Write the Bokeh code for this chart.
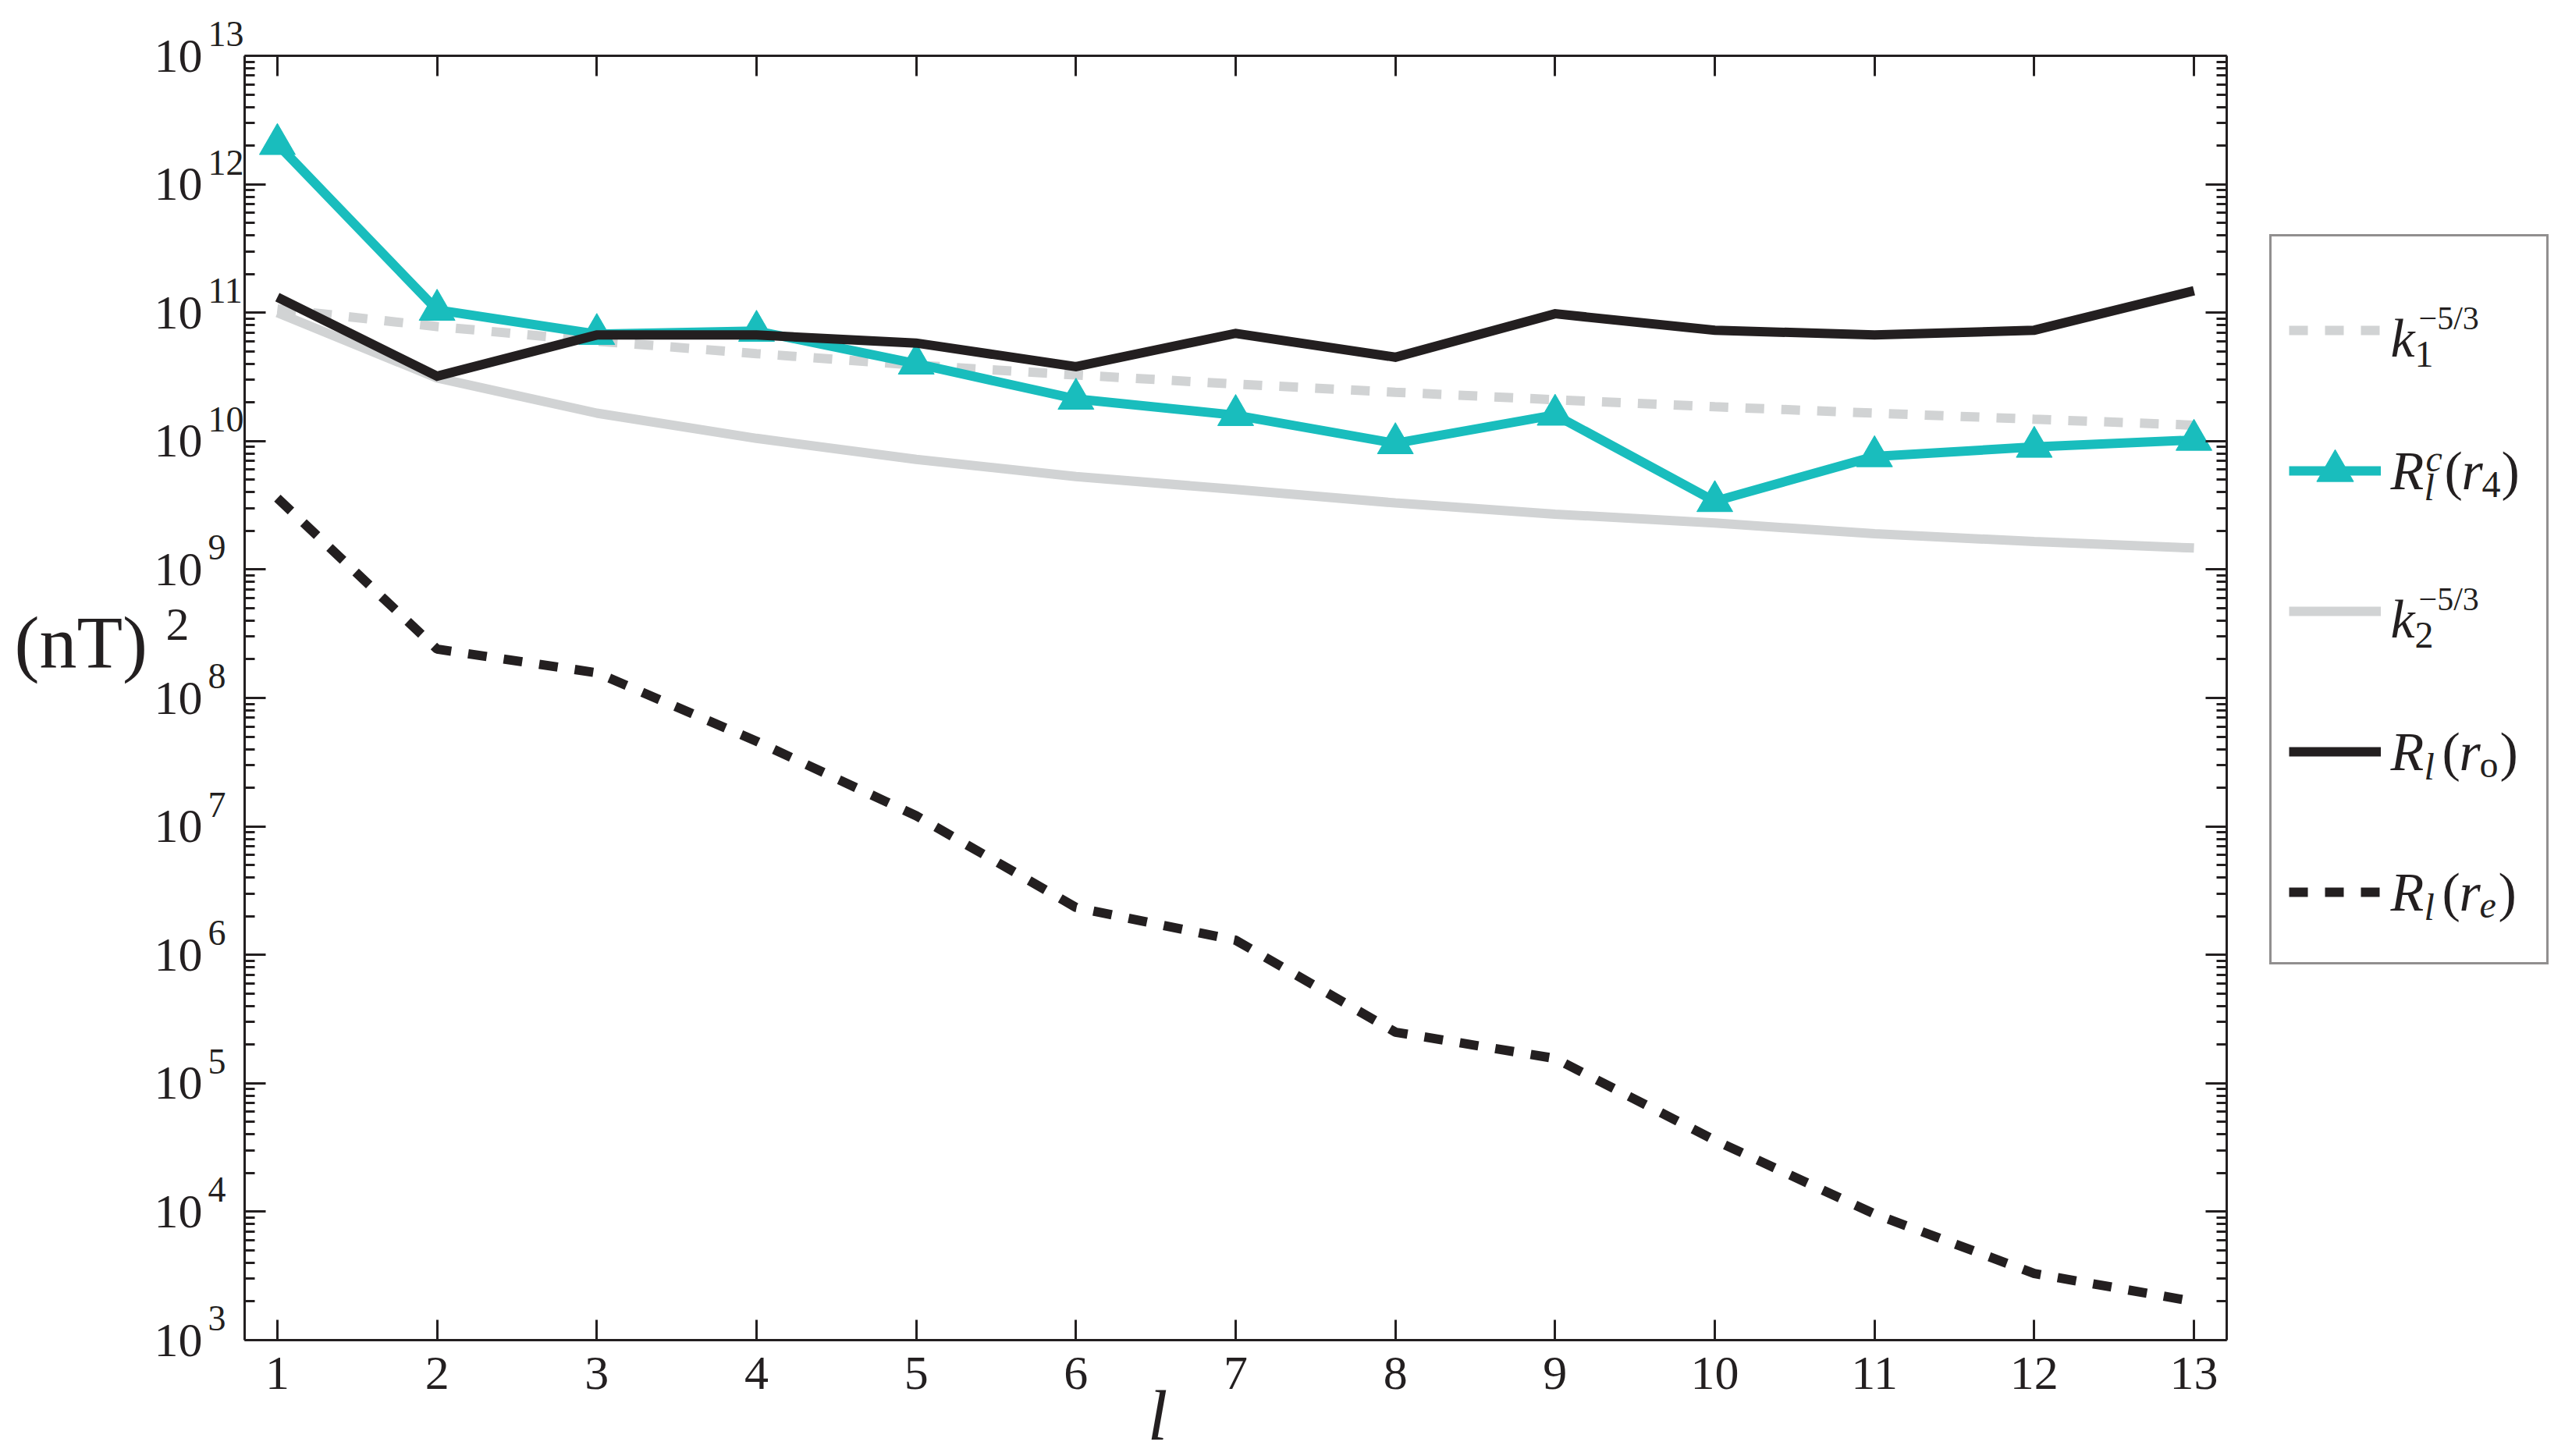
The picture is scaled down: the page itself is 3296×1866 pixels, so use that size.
from bokeh.plotting import figure
from bokeh.models import (Range1d, FixedTicker, LinearAxis, LogAxis, Label,
                          Legend, LegendItem, PrintfTickFormatter, CustomLabelingPolicy)
from bokeh.core.properties import value
from bokeh.embed import file_html
from bokeh.resources import INLINE

# ---------------- data ----------------
degree_l = [1, 2, 3, 4, 5, 6, 7, 8, 9, 10, 11, 12, 13]
k1_power = [1.07e11, 7.8e10, 6.0e10, 4.8e10, 3.9e10, 3.27e10, 2.78e10,
            2.4e10, 2.1e10, 1.85e10, 1.65e10, 1.48e10, 1.33e10]
rc_r4 = [2.05e12, 1.05e11, 6.8e10, 7.2e10, 4.0e10, 2.13e10, 1.59e10,
         9.6e9, 1.6e10, 3.4e9, 7.6e9, 9.0e9, 1.02e10]
k2_power = [1.0e11, 3.1e10, 1.65e10, 1.05e10, 7.2e9, 5.3e9, 4.2e9,
            3.3e9, 2.7e9, 2.3e9, 1.9e9, 1.65e9, 1.47e9]
r_l_ro = [1.32e11, 3.2e10, 6.7e10, 6.7e10, 5.8e10, 3.8e10, 6.9e10,
          4.5e10, 9.8e10, 7.3e10, 6.7e10, 7.3e10, 1.48e11]
r_l_re = [3.6e9, 2.4e8, 1.57e8, 4.6e7, 1.21e7, 2.34e6, 1.3e6,
          2.5e5, 1.56e5, 3.6e4, 9.6e3, 3.3e3, 2.0e3]
x_tick_values = degree_l
y_exponents = [3, 4, 5, 6, 7, 8, 9, 10, 11, 12, 13]

# ---------------- style / layout ----------------
TEAL = "#19BDBD"
GRAY = "#D1D3D4"
BLACK = "#231F20"
SERIF = "Liberation Serif"

W, H = 3296, 1866
X0, X1 = 0.795, 13.205                      # visible axis box in data units
E0, E1 = y_exponents[0], y_exponents[-1]
FL, FR, FT, FB = 313, 2853, 71, 1717        # axis box edges in canvas pixels

# the frame spans the whole canvas so texts outside the axis box are not clipped
sx = (FR - FL) / (X1 - X0)
sy = (FB - FT) / (E1 - E0)
x_range = Range1d(X0 - FL / sx, X1 + (W - FR) / sx)
y_range = Range1d(10.0 ** (E0 - (H - FB) / sy), 10.0 ** (E1 + FT / sy))

p = figure(width=W, height=H, x_range=x_range, y_range=y_range,
           y_axis_type="log", x_axis_location=None, y_axis_location=None,
           output_backend="svg", toolbar_location=None,
           min_border=0, min_border_left=0, min_border_right=0,
           min_border_top=0, min_border_bottom=0)
p.grid.visible = False
p.outline_line_color = None
p.background_fill_color = "white"
p.border_fill_color = "white"

y_ticker = FixedTicker(ticks=[10.0 ** e for e in y_exponents],
                       minor_ticks=[m * 10.0 ** e for e in y_exponents[:-1] for m in range(2, 10)])
x_ticker = FixedTicker(ticks=x_tick_values, minor_ticks=[])
no_labels = CustomLabelingPolicy(code="return []")


def style_axis(ax, major_len, labels=True):
    ax.axis_line_color = BLACK
    ax.axis_line_width = 3
    ax.major_tick_line_color = BLACK
    ax.major_tick_line_width = 3
    ax.minor_tick_line_color = BLACK
    ax.minor_tick_line_width = 3
    ax.major_tick_in = major_len
    ax.major_tick_out = 0
    ax.minor_tick_in = 13
    ax.minor_tick_out = 0
    ax.major_label_text_font = SERIF
    ax.major_label_text_color = BLACK if labels else None
    ax.major_label_text_font_size = "62px"
    if not labels:
        ax.major_label_policy = no_labels


y_bounds = (10.0 ** E0, 10.0 ** E1)
left_ax = LogAxis(ticker=y_ticker, formatter=PrintfTickFormatter(format="10"),
                  fixed_location=X0, bounds=y_bounds)
style_axis(left_ax, 27)
left_ax.major_label_standoff = 54
p.add_layout(left_ax, "left")

right_ax = LogAxis(ticker=y_ticker, fixed_location=X1, bounds=y_bounds)
style_axis(right_ax, 27, labels=False)
p.add_layout(right_ax, "right")

bottom_ax = LinearAxis(ticker=x_ticker, fixed_location=10.0 ** E0, bounds=(X0, X1))
style_axis(bottom_ax, 26)
bottom_ax.major_label_standoff = 22
p.add_layout(bottom_ax, "below")

top_ax = LinearAxis(ticker=x_ticker, fixed_location=10.0 ** E1, bounds=(X0, X1))
style_axis(top_ax, 26, labels=False)
p.add_layout(top_ax, "above")

# ---------------- series ----------------
LW = 12
r_k1 = p.line(degree_l, k1_power, line_color=GRAY, line_width=LW, line_dash="24 22")
r_rc = p.line(degree_l, rc_r4, line_color=TEAL, line_width=LW, line_join="miter")
r_rcm = p.scatter(degree_l, rc_r4, marker="triangle", size=46,
                  fill_color=TEAL, line_color=TEAL, line_width=1)
r_k2 = p.line(degree_l, k2_power, line_color=GRAY, line_width=LW)
r_ro = p.line(degree_l, r_l_ro, line_color=BLACK, line_width=LW, line_join="miter")
r_re = p.line(degree_l, r_l_re, line_color=BLACK, line_width=LW, line_dash="24 22")

# ---------------- legend (box + samples) ----------------
LEG_LEFT, LEG_TOP, LEG_H = 2908, 307, 929
LEG_PAD, LEG_GH, LEG_SP = 22, 136, 44
legend = Legend(items=[
    LegendItem(label=value(" "), renderers=[r_k1]),
    LegendItem(label=value(" "), renderers=[r_rc, r_rcm]),
    LegendItem(label=value(" "), renderers=[r_k2]),
    LegendItem(label=value(" "), renderers=[r_ro]),
    LegendItem(label=value(" "), renderers=[r_re]),
], location=(LEG_LEFT, H - (LEG_TOP + LEG_H)),
    padding=LEG_PAD, spacing=LEG_SP, glyph_width=118, glyph_height=LEG_GH,
    label_standoff=15, label_width=175, label_text_font_size="20px",
    title=" ", title_text_font_size="16px", title_standoff=12,
    border_line_color=BLACK, border_line_width=3,
    background_fill_color="white", background_fill_alpha=0.0, margin=0)
p.add_layout(legend)

MID = 0.305  # distance from alphabetic baseline to the em-box middle, in em


def canvas_label(text, px, baseline_y, size, italic=False, align="left"):
    """Text placed at a canvas position (given by its baseline), anchored at the axis box corner."""
    py = baseline_y - MID * size
    p.add_layout(Label(x=X1, y=10.0 ** E1, x_offset=px - FR, y_offset=-(py - FT),
                       text=text, text_font=SERIF, text_font_size=f"{size}px",
                       text_font_style="italic" if italic else "normal",
                       text_color=BLACK, text_align=align, text_baseline="middle",
                       level="overlay"))


# legend label math pieces (dx from text start, baseline dy from entry centre)
TX = 3063
M, S, P = 70, 48, 42   # main, subscript, superscript sizes
centers = [428 + 180 * i for i in range(5)]
legend_math = [
    [("k", 0, 26, M, True), ("1", 31, 40, S, False), ("\u22125/3", 36, -8, P, False)],
    [("R", 0, 16, M, True), ("l", 43, 31, S, True), ("c", 45, -6, S, True),
     ("(", 69, 16, M, False), ("r", 91, 16, M, True), ("4", 117, 27, S, False),
     (")", 142, 16, M, False)],
    [("k", 0, 26, M, True), ("2", 31, 40, S, False), ("\u22125/3", 36, -8, P, False)],
    [("R", 0, 16, M, True), ("l", 43, 29, S, True),
     ("(", 66, 16, M, False), ("r", 88, 16, M, True), ("o", 114, 26, S, False),
     (")", 140, 16, M, False)],
    [("R", 0, 16, M, True), ("l", 43, 29, S, True),
     ("(", 66, 16, M, False), ("r", 88, 16, M, True), ("e", 114, 26, S, True),
     (")", 138, 16, M, False)],
]
for c, pieces in zip(centers, legend_math):
    for txt, dx, dy, size, it in pieces:
        canvas_label(txt, TX + dx, c + dy, size, it)

# y tick exponents
for e in y_exponents:
    p.add_layout(Label(x=X0, y=10.0 ** e, x_offset=-47, y_offset=28, text=str(e),
                       text_font=SERIF, text_font_size="46px", text_color=BLACK,
                       text_align="left", text_baseline="middle", level="overlay"))

# axis titles
canvas_label("(nT)", 18, 852, 96)
canvas_label("2", 212, 818, 60)
canvas_label("l", 1483, 1842, 92, italic=True, align="center")

open("out.html", "w").write(file_html(p, INLINE))
